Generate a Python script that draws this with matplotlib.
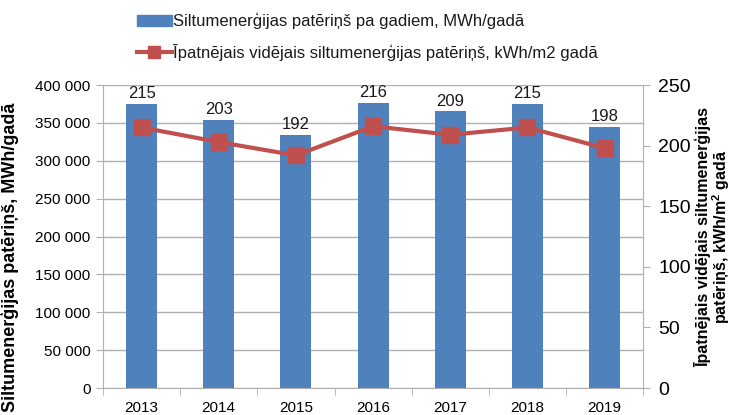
import matplotlib
matplotlib.use('Agg')
import matplotlib.pyplot as plt
from matplotlib.lines import Line2D
from matplotlib.patches import Patch

# ---------------------- Data ---------------------- #
years = ['2013', '2014', '2015', '2016', '2017', '2018', '2019']
consumption_mwh = [375100, 353600, 334700, 376400, 365400, 375100, 344700]  # bars, left axis
specific_kwh_m2 = [215, 203, 192, 216, 209, 215, 198]  # line, right axis

left_ticks = [0, 50000, 100000, 150000, 200000, 250000, 300000, 350000, 400000]
left_ticklabels = ['0', '50 000', '100 000', '150 000', '200 000', '250 000',
                   '300 000', '350 000', '400 000']
right_ticks = [0, 50, 100, 150, 200, 250]

BAR_COLOR = '#4F81BD'
LINE_COLOR = '#C0504D'
GRID_COLOR = '#B0B0B0'
TEXT_COLOR = '#1A1A1A'
# --------------------------------------------------- #

plt.rcParams['font.family'] = ['Liberation Sans Narrow', 'Liberation Sans', 'DejaVu Sans']
plt.rcParams['text.color'] = TEXT_COLOR

fig = plt.figure(figsize=(7.33, 4.15), dpi=100)
ax = fig.add_axes([0.1405, 0.065, 0.737, 0.73])
ax2 = ax.twinx()

x = list(range(len(years)))
ax.bar(x, consumption_mwh, width=0.4, color=BAR_COLOR, zorder=2)
ax.set_xlim(-0.5, len(years) - 0.5)
ax.set_ylim(0, 400000)
ax.set_yticks(left_ticks)
ax.set_yticklabels(left_ticklabels)
ax.yaxis.grid(True, color=GRID_COLOR, linewidth=1)
ax.set_axisbelow(True)
ax.set_xticks(x)
ax.set_xticklabels(years)
ax.set_xticks([i + 0.5 for i in range(-1, len(years))], minor=True)
ax.tick_params(axis='x', which='major', length=0, labelsize=11, pad=9)
ax.tick_params(axis='x', which='minor', length=5, color=GRID_COLOR, direction='out')
ax.tick_params(axis='y', length=5, color=GRID_COLOR, labelsize=11, pad=4)

for side in ['top', 'right']:
    ax.spines[side].set_visible(False)
ax.spines['left'].set_color(GRID_COLOR)
ax.spines['bottom'].set_color(GRID_COLOR)

# data labels above bars
for xi, h, v in zip(x, consumption_mwh, specific_kwh_m2):
    ax.annotate(str(v), (xi, h), xytext=(0, 2), textcoords='offset points',
                ha='center', va='bottom', fontsize=12)

ax2.plot(x, specific_kwh_m2, color=LINE_COLOR, linewidth=3, marker='s',
         markersize=11, zorder=3)
ax2.set_ylim(0, 250)
ax2.set_yticks(right_ticks)
ax2.tick_params(axis='y', length=5, color=GRID_COLOR, labelsize=14, pad=6)
for side in ['top', 'left', 'bottom']:
    ax2.spines[side].set_visible(False)
ax2.spines['right'].set_color(GRID_COLOR)

ax.set_ylabel('Siltumenerģijas patēriņš, MWh/gadā', fontsize=13,
              fontweight='bold', family=['Liberation Sans', 'DejaVu Sans'])
ax.yaxis.set_label_coords(-0.155, 0.43)
ax2.set_ylabel('Īpatnējais vidējais siltumenerģijas\npatēriņš, kWh/m$^\\mathregular{2}$ gadā',
               fontsize=11.5, fontweight='bold', family=['Liberation Sans', 'DejaVu Sans'],
               linespacing=0.95)
ax2.yaxis.set_label_coords(1.095, 0.5)

handles = [Patch(color=BAR_COLOR),
           Line2D([], [], color=LINE_COLOR, linewidth=3, marker='s', markersize=9)]
labels = ['Siltumenerģijas patēriņš pa gadiem, MWh/gadā',
          'Īpatnējais vidējais siltumenerģijas patēriņš, kWh/m2 gadā']
fig.legend(handles, labels, loc='upper left', bbox_to_anchor=(0.166, 1.005),
           frameon=False, fontsize=12, ncol=1, handlelength=2.1,
           handletextpad=0.1, labelspacing=0.85)

fig.savefig('out.png', dpi=100)
